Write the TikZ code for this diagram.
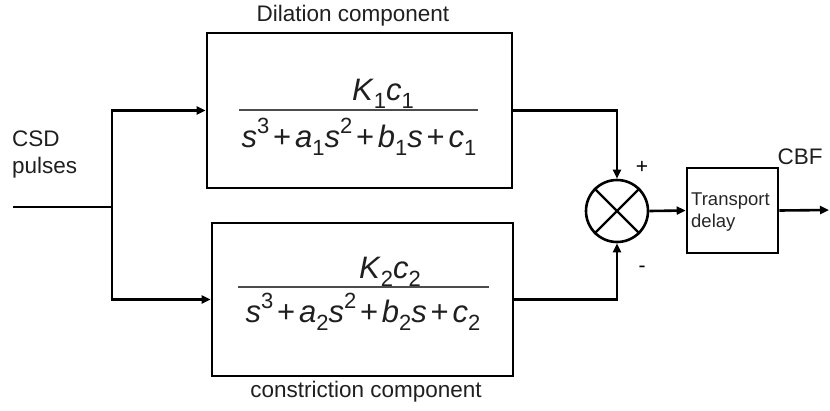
\documentclass[tikz,border=0pt]{standalone}
\usepackage{fontspec}
\setmainfont{Liberation Sans}
\usetikzlibrary{arrows.meta}
\newcommand\myup[1]{\raisebox{0.42em}{\fontsize{22}{22}\selectfont #1}}
\newcommand\mydn[1]{\raisebox{-0.28em}{\fontsize{22}{22}\selectfont #1}}
\newcommand\iv[1]{\textit{#1}}
\newcommand\pl{\hspace{3.8pt}+\hspace{3.8pt}}
\begin{document}
\begin{tikzpicture}[x=1pt,y=-1pt,
  blk/.style={draw,line width=2.6pt,inner sep=0pt},
  lbl/.style={font=\fontsize{22.5}{27}\selectfont,inner sep=0pt,text=black!88},
  mth/.style={font=\fontsize{31}{35}\selectfont,inner sep=0pt,anchor=base,text=black!88},
  wire/.style={line width=2.6pt},
  arr/.style={wire,-{Triangle[length=9pt,width=8pt]}},
  fracline/.style={line width=1.3pt,draw=black!70}
]
\useasboundingbox (0,0) rectangle (830,410);
% blocks
\node[blk,minimum width=305pt,minimum height=155pt] (top) at (359.5,110.5) {};
\node[blk,minimum width=301pt,minimum height=153pt] (bot) at (362.5,299.5) {};
\node[blk,circle,minimum size=62pt] (sum) at (617,211) {};
\draw[line width=2.4pt] (sum.north west) -- (sum.south east);
\draw[line width=2.4pt] (sum.north east) -- (sum.south west);
\node[blk,minimum width=91pt,minimum height=85pt] (td) at (732.5,210.5) {};
\node[font=\fontsize{18.5}{22}\selectfont,inner sep=0pt,anchor=west,align=left,text=black!85] (tdt) at (691,212) {Transport\\delay};
% labels
\node[lbl] (dil) at (353,16) {Dilation component};
\node[lbl] (con) at (366,392) {constriction component};
\node[lbl,anchor=west,align=left] (csd) at (12,154) {CSD\\pulses};
\node[lbl] (cbf) at (800,157) {CBF};
\node[font=\fontsize{21}{24}\selectfont,inner sep=0pt] (plus) at (642,167) {+};
\node[font=\fontsize{21}{24}\selectfont,inner sep=0pt] (minus) at (642,269) {-};
% fractions
\node[mth] (n1) at (383,100) {\iv{K}\mydn{1}\iv{c}\mydn{1}};
\coordinate (f1a) at (239,110);
\coordinate (f1b) at (478,110);
\draw[fracline] (f1a) -- (f1b);
\node[mth] (d1) at (359,147) {\iv{s}\myup{3}\pl\iv{a}\mydn{1}\iv{s}\myup{2}\pl\iv{b}\mydn{1}\iv{s}\pl\iv{c}\mydn{1}};
\node[mth] (n2) at (390,278) {\iv{K}\mydn{2}\iv{c}\mydn{2}};
\coordinate (f2a) at (238,287);
\coordinate (f2b) at (489,287);
\draw[fracline] (f2a) -- (f2b);
\node[mth] (d2) at (363,322) {\iv{s}\myup{3}\pl\iv{a}\mydn{2}\iv{s}\myup{2}\pl\iv{b}\mydn{2}\iv{s}\pl\iv{c}\mydn{2}};
% connectors
\coordinate (in) at (13,207);
\coordinate (j) at (112,207);
\coordinate (out) at (829,210);
\draw[wire] (in) -- (j);
\draw[arr] (j) |- (top.west);
\draw[arr] (j) |- (bot.west);
\draw[arr] (top.east) -| (sum.north);
\draw[arr] (bot.east) -| (sum.south);
\draw[arr] (sum.east) -- (td.west);
\draw[arr] (td.east) -- (out);
\end{tikzpicture}
\end{document}
